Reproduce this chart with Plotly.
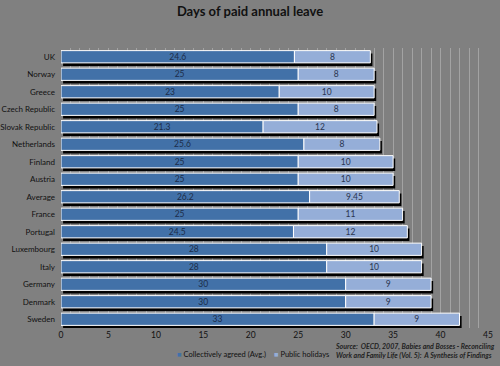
import plotly.graph_objects as go

countries = ["UK", "Norway", "Greece", "Czech Republic", "Slovak Republic", "Netherlands",
             "Finland", "Austria", "Average", "France", "Portugal", "Luxembourg", "Italy",
             "Germany", "Denmark", "Sweden"]
collective = [24.6, 25, 23, 25, 21.3, 25.6, 25, 25, 26.2, 25, 24.5, 28, 28, 30, 30, 33]
holidays = [8, 8, 10, 8, 12, 8, 10, 10, 9.45, 11, 12, 10, 10, 9, 9, 9]
x_ticks = [0, 5, 10, 15, 20, 25, 30, 35, 40, 45]

# bottom-to-top order so that index 0 is at the bottom
cats = countries[::-1]
coll = collective[::-1]
hol = holidays[::-1]
totals = [c + h for c, h in zip(coll, hol)]

FONT = "Lato"
DARK_BLUE = "#4271a8"
LIGHT_BLUE = "#95aed8"
BG = "#808080"
n = len(cats)

fig = go.Figure()

# shadow (drawn on base axes shifted right/down)
fig.add_trace(go.Bar(
    y=list(range(n)), x=totals, orientation="h", marker=dict(color="black", line=dict(width=0)),
    width=0.72, showlegend=False, hoverinfo="skip", xaxis="x", yaxis="y",
))

fig.add_trace(go.Bar(
    y=list(range(n)), x=coll, orientation="h", name="Collectively agreed (Avg.)",
    marker=dict(color=DARK_BLUE, line=dict(color="white", width=1)),
    text=[f"{v:g}" for v in coll], textposition="inside", insidetextanchor="middle",
    textangle=0, constraintext="none",
    textfont=dict(family=FONT, size=8.5, color="#1c2d4a"), width=0.7,
    xaxis="x2", yaxis="y2", showlegend=False,
))
fig.add_trace(go.Bar(
    y=list(range(n)), x=hol, base=coll, orientation="h", name="Public holidays",
    marker=dict(color=LIGHT_BLUE, line=dict(color="white", width=1)),
    text=[f"{v:g}" for v in hol], textposition="inside", insidetextanchor="middle",
    textangle=0, constraintext="none",
    textfont=dict(family=FONT, size=8.5, color="#2a3550"), width=0.7,
    xaxis="x2", yaxis="y2", showlegend=False,
))

dx = 0.22   # shadow offset in x units
dy = 0.17   # shadow offset in category units

fig.update_layout(
    width=500, height=366,
    paper_bgcolor=BG, plot_bgcolor=BG,
    margin=dict(l=61, r=12, t=48, b=38, autoexpand=False),
    barmode="overlay",
    title=dict(text="<b>Days of paid annual leave</b>", x=0.5, xanchor="center",
               y=0.968, yanchor="middle",
               font=dict(family=FONT, size=13, color="#111111")),
    font=dict(family=FONT, color="#111111"),
    xaxis=dict(range=[0 - dx, 45 - dx], showticklabels=False, showgrid=False, zeroline=False,
               automargin=False),
    yaxis=dict(range=[-0.5 + dy, n - 0.5 + dy], showticklabels=False, showgrid=False,
               zeroline=False, automargin=False),
    xaxis2=dict(range=[0, 45], overlaying="x", side="bottom", tickvals=x_ticks,
                tickfont=dict(family=FONT, size=8.5, color="#111111"),
                showgrid=True, gridcolor="#a3a3a3", gridwidth=1,
                minor=dict(dtick=1, showgrid=True, gridcolor="#a3a3a3", gridwidth=1),
                zeroline=False, showline=False, ticks="", automargin=False),
    yaxis2=dict(range=[-0.5, n - 0.5], overlaying="y", tickvals=list(range(n)),
                ticktext=cats,
                tickfont=dict(family=FONT, size=8, color="#111111"),
                showgrid=False, zeroline=False, ticks="", ticklabelstandoff=5,
                automargin=False),
    showlegend=False,
)

# legend drawn as text entries
fig.add_annotation(
    text=f"<span style='color:{DARK_BLUE}'>■</span> Collectively agreed (Avg.)",
    xref="paper", yref="paper", x=(175 - 61) / 427, y=-(354 - 328) / 280,
    xanchor="left", yanchor="middle", showarrow=False,
    font=dict(family=FONT, size=7.5, color="#111111"),
)
fig.add_annotation(
    text=f"<span style='color:{LIGHT_BLUE}'>■</span> Public holidays",
    xref="paper", yref="paper", x=(272 - 61) / 427, y=-(354 - 328) / 280,
    xanchor="left", yanchor="middle", showarrow=False,
    font=dict(family=FONT, size=7.5, color="#111111"),
)

fig.add_annotation(
    text="<b><i>Source:  OECD, 2007, Babies and Bosses - Reconciling<br>Work and Family Life (Vol. 5):  A Synthesis of Findings</i></b>",
    xref="paper", yref="paper", x=(497 - 61) / 427, y=-(340 - 328) / 280,
    xanchor="right", yanchor="top",
    showarrow=False, align="left", font=dict(family=FONT, size=7, color="#222222"),
)

fig.write_html("out.html", post_script="document.body.style.margin='0';",
               config={"displayModeBar": False})
